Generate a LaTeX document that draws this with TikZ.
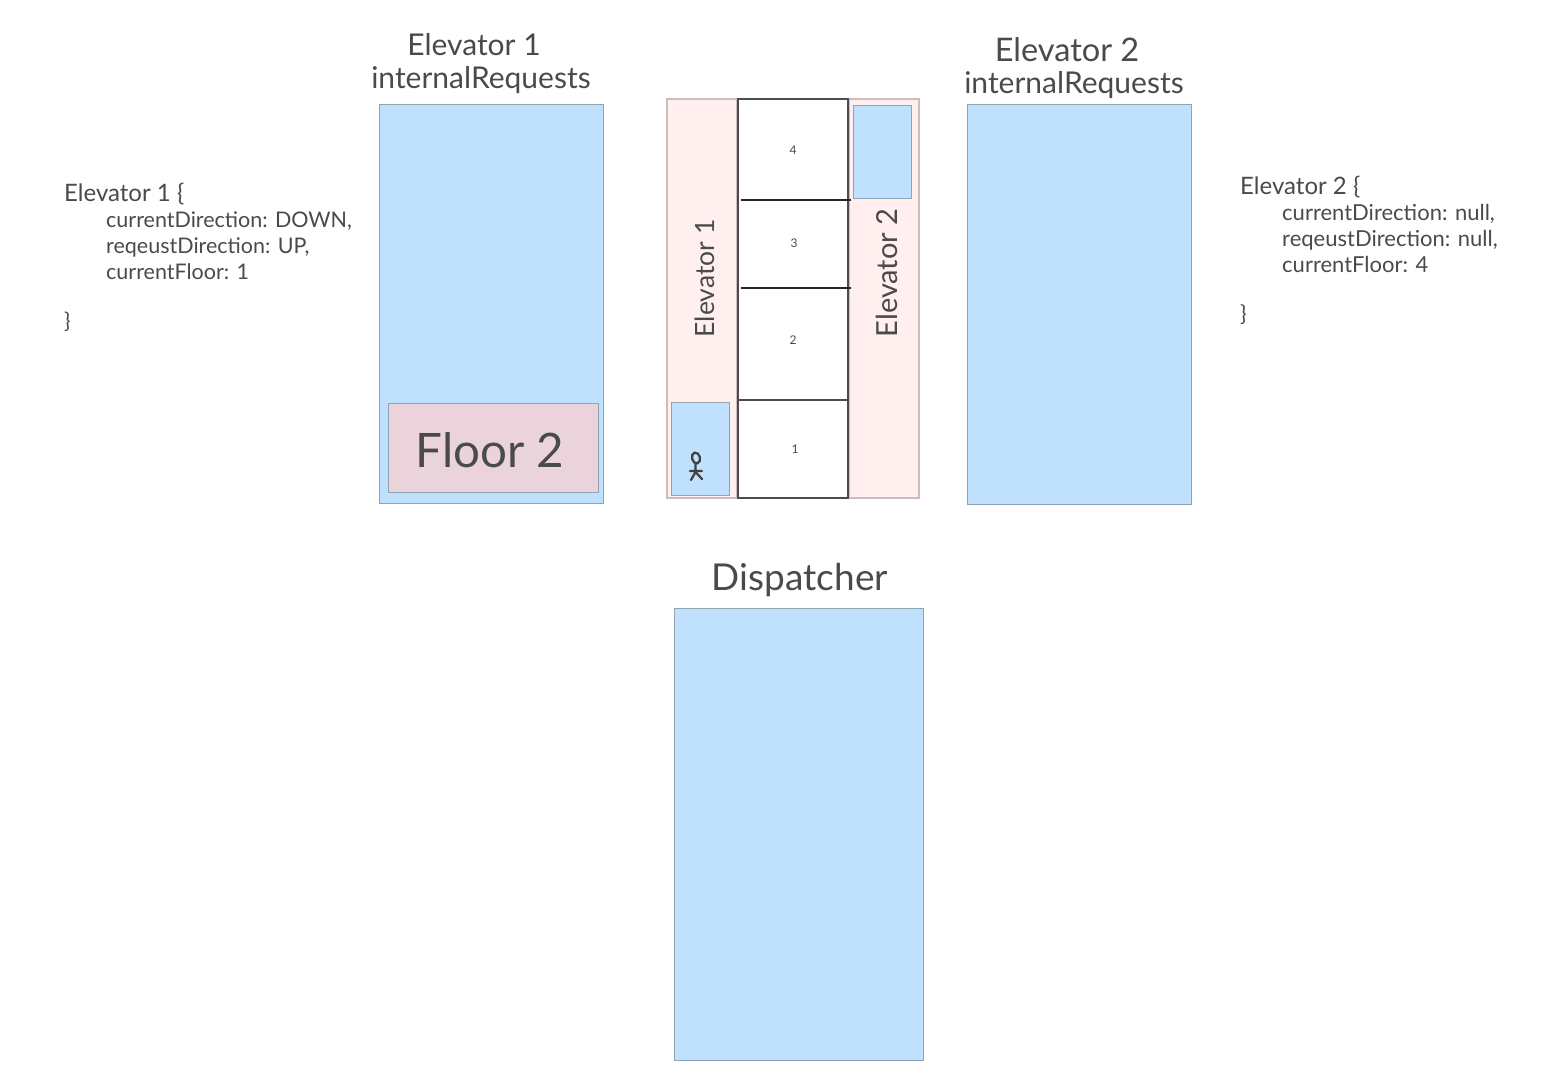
\documentclass[tikz,border=0pt]{standalone}
\usepackage{fontspec}
\setmainfont{Lato}
\definecolor{skyb}{HTML}{BFE1FE}
\definecolor{blush}{HTML}{FFF0EF}
\definecolor{rosy}{HTML}{EBD3DC}
\definecolor{ink}{HTML}{4A4A4A}
\definecolor{edgeb}{HTML}{8FA3B3}
\definecolor{edgep}{HTML}{CDBDBD}
\tikzset{
 box/.style={draw,inner sep=0pt,outer sep=0pt,line width=1pt},
 bluebox/.style={box,fill=skyb,draw=edgeb},
 pinkbox/.style={box,fill=blush,draw=edgep,line width=1.2pt},
 shaftbox/.style={box,fill=white,draw=black!70,line width=1.6pt},
 floorline/.style={draw=black!85,line width=1.2pt},
 head/.style={font=\fontsize{30}{30}\selectfont,text=ink,inner sep=0pt},
 code/.style={font=\fontsize{21.5}{21.5}\selectfont,text=ink,inner sep=0pt,anchor=base west},
 coder/.style={code,font=\fontsize{22}{22}\selectfont},
 side/.style={font=\fontsize{26.5}{26.5}\selectfont,text=ink,inner sep=0pt,rotate=90},
 num/.style={font=\fontsize{12}{12}\selectfont,text=ink,inner sep=0pt},
 person/.style={draw=black!75,line width=2.2pt,line cap=round}
}
\begin{document}
\begin{tikzpicture}[x=1pt,y=-1pt]
\useasboundingbox (0,0) rectangle (1557,1077);
% internal request columns
\node[bluebox,minimum width=224pt,minimum height=399pt] (e1req) at (491.5,303.5) {};
\node[bluebox,minimum width=224pt,minimum height=400pt] (e2req) at (1079.5,304.5) {};
\node[box,fill=rosy,draw=edgeb,minimum width=210pt,minimum height=89pt] (floortwo) at (493.5,447.5) {};
\node[font=\fontsize{47.5}{47.5}\selectfont,text=ink,inner sep=0pt] (floortwotext) at (490,450) {Floor 2};
\node[bluebox,minimum width=249pt,minimum height=452pt] (disp) at (799,834) {};
% titles
\node[head] (t1a) at (474,45) {Elevator 1};
\node[head] (t1b) at (481,80) {internalRequests};
\node[head,font=\fontsize{32.5}{32.5}\selectfont] (t2a) at (1067,50) {Elevator 2};
\node[head] (t2b) at (1074,85) {internalRequests};
\node[font=\fontsize{37}{37}\selectfont,text=ink,inner sep=0pt] (dt) at (800,580) {Dispatcher};
% shaft sides
\node[pinkbox,minimum width=70pt,minimum height=399pt] (left) at (702,298.5) {};
\node[pinkbox,minimum width=70pt,minimum height=399pt] (right) at (884,298.5) {};
\node[side] (lab1) at (705,278.5) {Elevator 1};
\node[side,font=\fontsize{29}{29}\selectfont] (lab2) at (887,273) {Elevator 2};
\node[bluebox,minimum width=58pt,minimum height=93pt] (car1) at (700,448.5) {};
\node[bluebox,minimum width=58pt,minimum height=93pt] (car2) at (882.5,152) {};
% shaft
\node[shaftbox,minimum width=110pt,minimum height=301pt] (upper) at (793,249.5) {};
\node[shaftbox,minimum width=110pt,minimum height=98pt] (lower) at (793,449) {};
\coordinate (a1) at (741,200);
\coordinate (a2) at (851,200);
\coordinate (b1) at (741,288);
\coordinate (b2) at (851,288);
\draw[floorline] (a1) -- (a2);
\draw[floorline] (b1) -- (b2);
\node[num] (n4) at (793,150) {4};
\node[num] (n3) at (794,243) {3};
\node[num] (n2) at (793,340) {2};
\node[num] (n1) at (795,449) {1};
% person
\draw[person,rotate around={15:(696,458)}] (696,458) ellipse (4pt and 5.5pt);
\draw[person] (695.5,464) -- (695.5,472) (690,471) -- (702,471) (695.5,472) -- (691,480) (695.5,472) -- (702,479);
% code
\node[code,font=\fontsize{24}{24}\selectfont] (c1) at (64,201) {Elevator 1 \{};
\node[code] (c2) at (106,227) {currentDirection: DOWN,};
\node[code] (c3) at (106,253) {reqeustDirection: UP,};
\node[code] (c4) at (106,279) {currentFloor: 1};
\node[code] (c5) at (64,328) {\}};
\node[coder,font=\fontsize{24}{24}\selectfont] (d1) at (1240,194) {Elevator 2 \{};
\node[coder] (d2) at (1282,220) {currentDirection: null,};
\node[coder] (d3) at (1282,246) {reqeustDirection: null,};
\node[coder] (d4) at (1282,272) {currentFloor: 4};
\node[coder] (d5) at (1240,321) {\}};
\end{tikzpicture}
\end{document}
